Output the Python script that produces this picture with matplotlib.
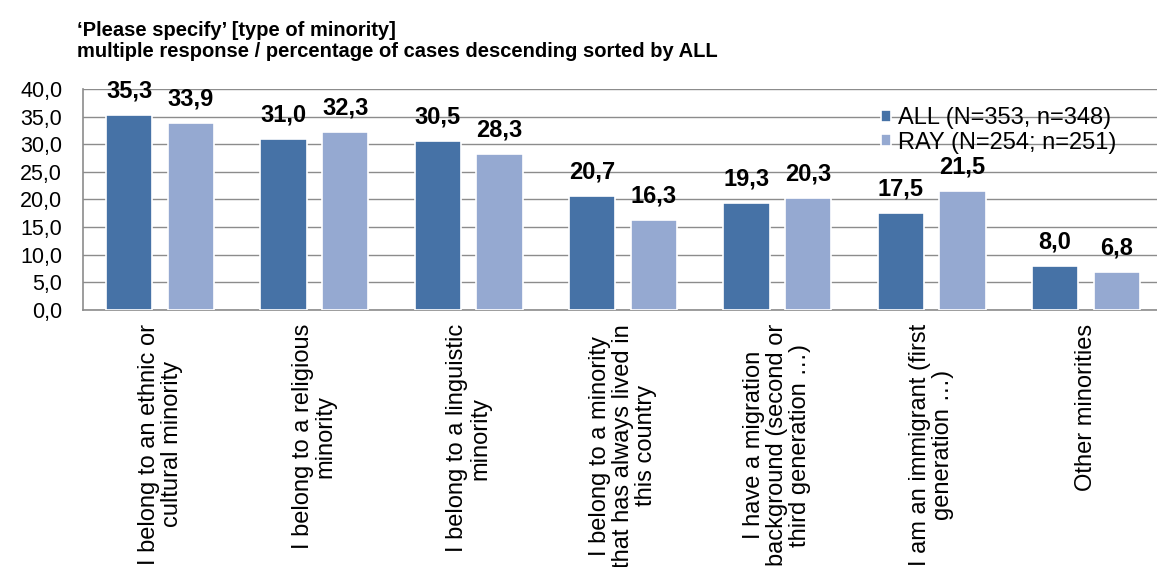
import matplotlib.pyplot as plt
import numpy as np

plt.rcParams['font.family'] = ['Liberation Sans', 'DejaVu Sans']

categories = [
    "I belong to an ethnic or\ncultural minority",
    "I belong to a religious\nminority",
    "I belong to a linguistic\nminority",
    "I belong to a minority\nthat has always lived in\nthis country",
    "I have a migration\nbackground (second or\nthird generation \u2026)",
    "I am an immigrant (first\ngeneration \u2026)",
    "Other minorities",
]
all_vals = [35.3, 31.0, 30.5, 20.7, 19.3, 17.5, 8.0]
ray_vals = [33.9, 32.3, 28.3, 16.3, 20.3, 21.5, 6.8]
series_names = ["ALL (N=353, n=348)", "RAY (N=254; n=251)"]
colors = ["#4672A6", "#95A9D1"]

fig = plt.figure(figsize=(11.57, 5.67), dpi=100)
ax = fig.add_axes([83 / 1157, 1 - 310 / 567, 1080 / 1157, 221 / 567])

x = np.arange(len(categories))
w = 0.3
for vals, off, col, name in zip([all_vals, ray_vals], [-0.2, 0.2], colors, series_names):
    bars = ax.bar(x + off, vals, w, color=col, edgecolor='white', linewidth=1.2,
                  label=name, zorder=3)
    for b, v in zip(bars, vals):
        ax.annotate(f"{v:.1f}".replace('.', ','), (b.get_x() + b.get_width() / 2, v),
                    xytext=(0, 9), textcoords='offset points',
                    ha='center', va='bottom', fontsize=17, fontweight='bold')

ax.set_xlim(-0.5, len(categories) - 0.5)
ax.set_ylim(0, 40)
ax.set_yticks(np.arange(0, 41, 5))
ax.set_yticklabels([f"{t:.1f}".replace('.', ',') for t in np.arange(0, 41, 5)], fontsize=15.5)
ax.yaxis.grid(True, color='#8c8c8c', linewidth=1, zorder=0)
ax.set_axisbelow(True)
ax.tick_params(axis='y', length=0, pad=15)
ax.tick_params(axis='x', length=0, pad=10)
ax.set_xticks(x)
ax.set_xticklabels(categories, rotation=90, fontsize=17, ha='center', va='top',
                   multialignment='center', linespacing=1.05)
for s in ['top', 'right']:
    ax.spines[s].set_visible(False)
for s in ['left', 'bottom']:
    ax.spines[s].set_color('#8c8c8c')
    ax.spines[s].set_linewidth(1.2)

ax.legend(loc='upper left', bbox_to_anchor=(789 / 1080, 0.96), frameon=False,
          fontsize=17, handlelength=0.4, handleheight=0.4, handletextpad=0.3,
          labelspacing=0.1, borderaxespad=0)

fig.text(77 / 1157, 1 - 21 / 567, "\u2018Please specify\u2019 [type of minority]",
         fontsize=14.5, fontweight='bold', va='top')
fig.text(77 / 1157, 1 - 42 / 567,
         "multiple response / percentage of cases descending sorted by ALL",
         fontsize=14.5, fontweight='bold', va='top')

fig.savefig("out.png", dpi=100)
